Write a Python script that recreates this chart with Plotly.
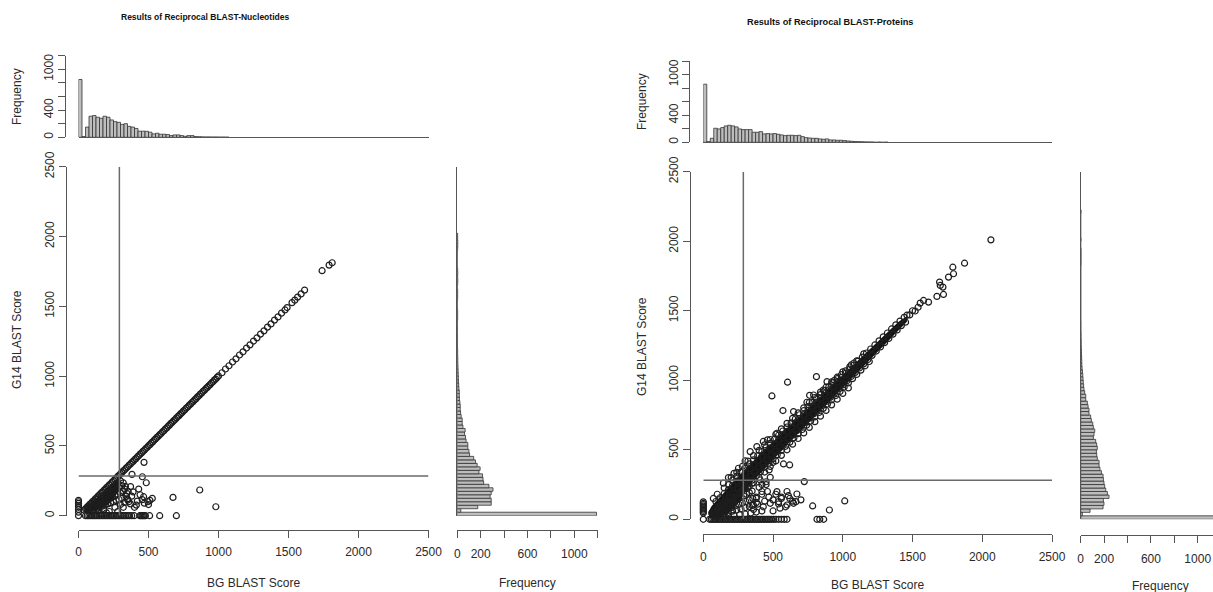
import plotly.graph_objects as go

W, H = 1213, 592
BIN = 25  # histogram bin width (score units)

# ---------------- Nucleotides panel data ----------------
nuc_bg_counts = [850, 10, 150, 310, 320, 295, 280, 310, 295, 255, 230, 220, 190, 200, 160, 150,
                 130, 90, 90, 88, 75, 50, 60, 45, 45, 40, 25, 35, 35, 25, 15, 25, 25, 10, 8, 6,
                 5, 5, 4, 4, 3, 3, 2]
nuc_g14_counts = [1190, 30, 175, 290, 290, 280, 290, 305, 270, 225, 220, 215, 185, 195, 170, 155,
                  140, 105, 100, 90, 90, 75, 70, 62, 67, 48, 42, 42, 33, 28, 25, 25, 22, 18, 17, 17,
                  14, 12, 10, 9, 8, 7, 6, 5, 4, 4, 3, 3, 2, 2, 2, 2, 1, 2, 1, 1, 3, 3, 3, 1, 0, 1,
                  3, 3, 3, 0, 3, 4, 3, 4, 3, 0, 0, 0, 0, 0, 3, 4, 4, 3, 3]

nuc_diag_x = [40, 50, 60, 70, 80, 90, 100, 110, 120, 130, 140, 150, 160, 170, 180, 190, 200, 210,
              220, 230, 240, 250, 260, 270, 280, 290, 300, 310, 320, 330, 340, 350, 360, 370, 380,
              390, 400, 410, 420, 430, 440, 450, 460, 470, 480, 490, 500, 510, 520, 530, 540, 550,
              560, 570, 580, 590, 600, 610, 620, 630, 640, 650, 660, 670, 680, 690, 700,
              710, 720, 730, 740, 750, 760, 770, 780, 790, 800, 810, 820, 830, 840, 850, 860, 870,
              880, 890, 900, 910, 920, 930, 940, 950, 960, 970, 980, 990, 1000,
              1025, 1050, 1075, 1100, 1125, 1150, 1175, 1200, 1225, 1250, 1275, 1300, 1325, 1350,
              1375, 1400, 1425, 1450, 1475,
              1490, 1525, 1545, 1565, 1590, 1615, 1740, 1790, 1812]
nuc_diag_y = [41, 49, 61, 69, 81, 89, 101, 109, 121, 129, 141, 149, 161, 169, 181, 189, 201, 209,
              221, 229, 241, 249, 261, 269, 281, 289, 301, 309, 321, 329, 341, 349, 361, 369, 381,
              389, 401, 409, 421, 429, 441, 449, 461, 469, 481, 489, 501, 509, 521, 529, 541, 549,
              561, 569, 581, 589, 601, 609, 621, 629, 641, 649, 661, 669, 681, 689, 701,
              711, 719, 731, 739, 751, 759, 771, 779, 791, 799, 811, 819, 831, 839, 851, 859, 871,
              879, 891, 899, 911, 919, 931, 939, 951, 959, 971, 979, 991, 1001,
              1024, 1051, 1074, 1101, 1124, 1151, 1174, 1201, 1224, 1251, 1274, 1301, 1324, 1351,
              1374, 1401, 1424, 1451, 1474,
              1491, 1526, 1544, 1566, 1589, 1616, 1755, 1795, 1812]

# envelope of the dense (solid black) cloud under the diagonal
nuc_core_x = [40, 110, 180, 230, 270, 300, 300, 220, 140, 60, 40]
nuc_core_y = [28, 32, 55, 95, 150, 210, 290, 212, 134, 55, 36]

nuc_zero_x = [50, 62, 74, 86, 98, 110, 122, 134, 146, 158, 170, 182, 194, 206, 218, 230, 242, 254,
              266, 278, 290, 302, 314, 326, 338, 352, 365, 380, 398, 438, 446, 454, 462, 470, 478,
              508, 580, 699]
nuc_zero_y = [0, 0, 0, 0, 0, 0, 0, 0, 0, 0, 0, 0, 0, 0, 0, 0, 0, 0, 0, 0, 0, 0, 0, 0, 0, 0, 0, 0,
              0, 0, 0, 0, 0, 0, 0, 0, 0, 0]

nuc_col_x = [0, 0, 0, 0, 0, 0, 0, 0]
nuc_col_y = [0, 25, 45, 60, 75, 88, 100, 110]

nuc_off_x = [60, 80, 100, 120, 140, 160, 180, 200, 220, 240, 260, 280, 300,
             70, 90, 110, 130, 150, 170, 190, 210, 230, 250, 270, 290, 310,
             80, 100, 120, 140, 160, 180, 200, 220, 240, 260, 280, 300, 320,
             90, 110, 130, 150, 170, 190, 210, 230, 250, 270, 290, 310,
             100, 140, 180, 220, 260, 300, 330, 340, 320, 280, 200, 160,
             330, 345, 350, 360, 370, 335, 320, 355,
             468, 382, 456, 484, 372, 430, 866, 675, 527, 465, 413, 496, 981, 353, 440, 420,
             500, 380, 400, 455, 510, 390, 470]
nuc_off_y = [50, 66, 85, 100, 118, 135, 150, 170, 185, 200, 220, 235, 250,
             48, 62, 77, 90, 105, 118, 132, 147, 160, 175, 188, 200, 215,
             44, 56, 66, 77, 88, 100, 110, 122, 132, 143, 154, 165, 176,
             36, 44, 52, 60, 68, 76, 84, 92, 100, 108, 116, 124,
             25, 35, 45, 30, 60, 80, 95, 140, 60, 30, 20, 15,
             190, 160, 120, 100, 85, 210, 235, 175,
             382, 296, 279, 236, 208, 191, 184, 131, 124, 136, 76, 100, 64, 112, 150, 105,
             80, 140, 60, 115, 110, 170, 90]

nuc_cut_bg, nuc_cut_g14 = 292, 285

# ---------------- Proteins panel data ----------------
prot_bg_counts = [861, 10, 60, 208, 198, 218, 243, 252, 243, 228, 198, 188, 188, 188, 149, 149,
                  158, 124, 129, 124, 129, 119, 109, 99, 104, 104, 99, 104, 84, 69, 64, 59, 59, 50,
                  45, 50, 35, 35, 30, 30, 25, 20, 15, 12, 10, 8, 6, 5, 4, 0, 3, 0, 2]
prot_g14_counts = [1180, 14, 80, 191, 199, 194, 242, 228, 214, 205, 199, 194, 191, 177, 165, 157,
                   157, 142, 137, 134, 142, 137, 128, 108, 114, 120, 108, 103, 91, 85, 71, 71, 63,
                   57, 43, 43, 34, 28, 25, 22, 20, 18, 15, 12, 10, 9, 8, 7, 6, 5, 4, 4, 3, 3, 2,
                   2, 2, 1, 1, 1, 1, 1, 1, 1, 1, 1, 1, 1, 1, 1, 1, 1, 1, 3, 3, 3, 3, 3, 0, 0, 3,
                   0, 0, 0, 0, 0, 0, 0, 3]

# envelope of the dense (solid black) band of points
prot_core_x = [40, 110, 170, 220, 270, 320, 400, 500, 600, 700, 800, 900, 1000, 1100, 1200, 1300,
               1400, 1460, 1460, 1400, 1300, 1200, 1100, 1000, 900, 800, 700, 600, 500, 400, 300,
               200, 120, 60, 40]
prot_core_y = [8, 12, 35, 80, 140, 230, 320, 430, 535, 637, 740, 843, 945, 1047, 1152, 1257, 1362,
               1420, 1462, 1420, 1325, 1228, 1130, 1035, 940, 845, 750, 655, 560, 462, 360, 250,
               160, 95, 60]

prot_u1_x = [90, 120, 150, 180, 210, 240, 270, 300, 330, 360, 390, 420, 450, 480, 510, 540, 570,
             600, 630, 660, 690, 720, 750, 780, 810, 840, 870, 900, 930, 960, 990, 1020, 1050,
             1080, 1110, 1140, 1170, 1200, 1230, 1260, 1290, 1320, 1350, 1380, 1410, 1440, 1460]
prot_u1_y = [128, 155, 186, 214, 245, 274, 304, 333, 364, 394, 423, 454, 483, 514, 543, 574, 604,
             633, 664, 693, 724, 753, 783, 812, 843, 872, 903, 931, 962, 990, 1021, 1050, 1080,
             1108, 1138, 1167, 1196, 1225, 1254, 1283, 1312, 1340, 1369, 1398, 1426, 1452, 1468]

prot_l1_x = [100, 130, 160, 190, 220, 250, 280, 310, 340, 370, 400, 430, 460, 490, 520, 550, 580,
             610, 640, 670, 700, 730, 760, 790, 820, 850, 880, 910, 940, 970, 1000, 1030, 1060,
             1090, 1120, 1150, 1180, 1210, 1240, 1270, 1300, 1330, 1360, 1390, 1420, 1450]
prot_l1_y = [70, 98, 128, 157, 187, 217, 248, 277, 307, 338, 367, 397, 428, 457, 487, 517, 547,
             577, 607, 637, 667, 697, 727, 757, 787, 817, 847, 877, 907, 937, 967, 997, 1027,
             1057, 1088, 1118, 1149, 1179, 1210, 1240, 1271, 1301, 1332, 1362, 1393, 1418]

prot_u2_x = [150, 180, 210, 240, 270, 300, 330, 360, 390, 420, 450, 480, 510, 540, 570, 600, 630,
             660, 690, 720, 750, 780, 810, 840, 870, 900, 930, 960, 990, 1020, 1050, 1080]
prot_u2_y = [225, 250, 282, 310, 340, 368, 398, 428, 457, 487, 516, 546, 576, 605, 635, 664, 694,
             723, 752, 781, 811, 840, 868, 897, 926, 954, 983, 1012, 1040, 1068, 1096, 1124]

prot_l2_x = [200, 230, 260, 290, 320, 350, 380, 410, 440, 470, 500, 530, 560, 590, 620, 650, 680,
             710, 740, 770, 800, 830, 860, 890, 920, 950, 980, 1010, 1040, 1070, 1100, 1130, 1160,
             1190]
prot_l2_y = [130, 160, 192, 222, 252, 282, 313, 343, 374, 404, 434, 465, 495, 525, 555, 586, 616,
             646, 677, 707, 737, 768, 798, 829, 859, 890, 920, 951, 981, 1012, 1042, 1073, 1104,
             1135]

prot_u3_x = [200, 240, 280, 320, 360, 400, 440, 480, 520, 560, 600, 640, 680, 720, 760, 800, 840,
             880, 920, 960]
prot_u3_y = [300, 338, 380, 418, 458, 496, 535, 574, 612, 650, 690, 726, 765, 802, 840, 876, 915,
             950, 988, 1022]

prot_l3_x = [320, 360, 400, 440, 480, 520, 560, 600, 640, 680, 720, 760, 800, 840, 880, 920, 960,
             1000, 1040]
prot_l3_y = [225, 262, 300, 340, 380, 420, 460, 500, 540, 581, 621, 661, 702, 742, 783, 823, 864,
             905, 945]

prot_zero_x = [45, 57, 69, 81, 93, 105, 117, 129, 141, 153, 165, 177, 189, 201, 213, 225, 237, 249,
               261, 273, 285, 297, 309, 321, 333, 345, 357, 369, 381, 393, 405, 417, 429, 441, 453,
               465, 477, 490, 505, 520, 540, 560, 580, 600, 815, 835, 863]
prot_zero_y = [0, 0, 0, 0, 0, 0, 0, 0, 0, 0, 0, 0, 0, 0, 0, 0, 0, 0, 0, 0, 0, 0, 0, 0, 0, 0, 0, 0,
               0, 0, 0, 0, 0, 0, 0, 0, 0, 0, 0, 0, 0, 0, 0, 0, 0, 0, 0]

prot_col_x = [0, 0, 0, 0, 0, 0, 0, 0, 0, 0]
prot_col_y = [0, 45, 55, 65, 75, 85, 95, 105, 115, 125]

prot_off_x = [60, 80, 100, 120, 140, 160, 180, 200, 220, 240, 260, 280, 300,
              70, 90, 110, 130, 150, 170, 190, 210, 230, 250, 270, 290, 310, 330, 350,
              80, 105, 130, 155, 180, 205, 230, 255, 280, 305, 330, 355, 380,
              90, 120, 150, 180, 210, 240, 270, 300, 330, 360, 390,
              100, 140, 180, 220, 260, 300, 340, 380, 420,
              400, 420, 440, 460, 380, 360, 430, 470, 500, 520, 540, 560, 590, 610, 640, 420, 450,
              350, 300, 330,
              72, 100, 144, 180, 220, 252, 300, 336, 384, 430, 460, 528,
              492, 604, 571, 647, 743, 791, 811, 887, 762, 860, 940, 1000, 1100, 1060, 1150,
              575, 619, 472, 499, 480, 724, 408, 528, 671, 664, 540, 784, 904, 1014, 600, 480,
              647, 450, 420, 560, 620, 700, 500, 550, 380, 350, 600,
              1480, 1500, 1519, 1540, 1555, 1579, 1615, 1675, 1699, 1694, 1718, 1722, 1758, 1794,
              1789, 1873, 2062]
prot_off_y = [45, 58, 75, 90, 105, 120, 135, 150, 165, 180, 196, 210, 225,
              40, 52, 64, 75, 87, 99, 110, 122, 133, 145, 157, 168, 180, 192, 203,
              34, 44, 55, 65, 76, 86, 97, 107, 118, 128, 139, 149, 160,
              25, 34, 42, 50, 59, 67, 76, 84, 92, 101, 109,
              14, 18, 22, 28, 33, 38, 45, 52, 60,
              230, 180, 130, 200, 120, 70, 90, 160, 140, 180, 110, 150, 90, 170, 130, 250, 270,
              260, 260, 240,
              150, 180, 260, 300, 330, 367, 420, 487, 523, 560, 571, 619,
              887, 986, 782, 775, 842, 894, 1026, 990, 892, 930, 1000, 1060, 1140, 1110, 1190,
              398, 391, 355, 408, 302, 271, 283, 199, 182, 127, 127, 96, 67, 132, 103, 115,
              115, 250, 200, 160, 150, 140, 60, 80, 150, 100, 200,
              1470, 1500, 1498, 1525, 1555, 1574, 1562, 1603, 1682, 1706, 1670, 1617, 1742, 1766,
              1813, 1842, 2010]

prot_cut_bg, prot_cut_g14 = 287, 280

# ---------------- figure ----------------
FONT = "Liberation Sans"
AX = "#555555"
TXT = "#2a2a2a"
MK = dict(symbol="circle-open", size=6, color="#1e1e1e", line=dict(width=1.2, color="#1e1e1e"))
BAR = dict(color="#bdbdbd", line=dict(color="#333333", width=0.8))


def px(xp):
    return xp / W


def py(yp):
    return 1 - yp / H


def centers(counts):
    return [BIN * i + BIN / 2 for i in range(len(counts))]


fig = go.Figure()


def add_panel(sfx, core, groups, bg_counts, g14_counts):
    xs, ys = "x" + sfx[0], "y" + sfx[0]
    fig.add_trace(go.Scatter(x=core[0], y=core[1], mode="lines", fill="toself",
                             fillcolor="#141414", line=dict(width=0, color="#141414"),
                             xaxis=xs, yaxis=ys, showlegend=False, hoverinfo="skip"))
    for gx, gy in groups:
        fig.add_trace(go.Scatter(x=gx, y=gy, mode="markers", marker=MK, cliponaxis=False,
                                 xaxis=xs, yaxis=ys, showlegend=False, hoverinfo="x+y"))
    fig.add_trace(go.Bar(x=centers(bg_counts), y=bg_counts, width=BIN, marker=BAR,
                         xaxis="x" + sfx[1], yaxis="y" + sfx[1], showlegend=False))
    fig.add_trace(go.Bar(y=centers(g14_counts), x=g14_counts, width=BIN, orientation="h",
                         marker=BAR, xaxis="x" + sfx[2], yaxis="y" + sfx[2], showlegend=False))


add_panel(["", "2", "3"], (nuc_core_x, nuc_core_y),
          [(nuc_zero_x, nuc_zero_y), (nuc_col_x, nuc_col_y), (nuc_off_x, nuc_off_y),
           (nuc_diag_x, nuc_diag_y)],
          nuc_bg_counts, nuc_g14_counts)
add_panel(["4", "5", "6"], (prot_core_x, prot_core_y),
          [(prot_zero_x, prot_zero_y), (prot_col_x, prot_col_y), (prot_off_x, prot_off_y),
           (prot_l3_x, prot_l3_y), (prot_u3_x, prot_u3_y), (prot_l2_x, prot_l2_y),
           (prot_u2_x, prot_u2_y), (prot_l1_x, prot_l1_y), (prot_u1_x, prot_u1_y)],
          prot_bg_counts, prot_g14_counts)

score_ticks = [0, 500, 1000, 1500, 2000, 2500]
freq_ticks = [0, 200, 400, 600, 800, 1000, 1200]
freq_top_text = ["0", "", "400", "", "", "1000", ""]
freq_side_text = ["0", "200", "", "600", "", "1000", ""]

common = dict(showgrid=False, zeroline=False, linecolor=AX, linewidth=1, ticks="outside",
              ticklen=7, tickcolor=AX, automargin=False,
              tickfont=dict(family=FONT, size=12, color=TXT))


def panel_axes(sfx, sx0, sx1, sy0, sy1, yaxis_x, xaxis_y, hy0, hy1, hyaxis_x, fx0, fx1, frange,
               fxaxis_y, xstand, fstand):
    a, b, c = sfx
    k = lambda n, s: n + ("axis" + s if s else "axis")
    lay = {}
    lay[k("x", a)] = dict(common, domain=[px(sx0), px(sx1)], range=[0, 2500], anchor="free",
                          position=py(xaxis_y), showline=True, tickvals=score_ticks,
                          ticklabelstandoff=xstand)
    lay[k("y", a)] = dict(common, domain=[py(sy0), py(sy1)], range=[0, 2500], anchor="free",
                          position=px(yaxis_x), showline=True, tickvals=score_ticks,
                          tickangle=-90)
    lay[k("x", b)] = dict(showgrid=False, zeroline=False, domain=[px(sx0), px(sx1)],
                          range=[0, 2500], anchor="y" + b, showline=True, linecolor=AX,
                          linewidth=1, ticks="", showticklabels=False, automargin=False)
    lay[k("y", b)] = dict(common, domain=[py(hy0), py(hy1)], range=[0, 1200], anchor="free",
                          position=px(hyaxis_x), showline=True, tickvals=freq_ticks,
                          ticktext=freq_top_text, tickangle=-90)
    lay[k("x", c)] = dict(common, domain=[px(fx0), px(fx1)], range=frange, anchor="free",
                          position=py(fxaxis_y), showline=True, tickvals=freq_ticks,
                          ticktext=freq_side_text, ticklabelstandoff=fstand)
    lay[k("y", c)] = dict(showgrid=False, zeroline=False, domain=[py(sy0), py(sy1)],
                          range=[0, 2500], anchor="x" + c, showline=True, linecolor=AX,
                          linewidth=1, ticks="", showticklabels=False, automargin=False)
    return lay


layout_axes = {}
layout_axes.update(panel_axes(["", "2", "3"], 78.5, 428.5, 515.7, 166.7, 65.7, 529.5,
                              137.3, 55.7, 65.0, 457.3, 597.7, [0, 1200], 530.0, 4, 6))
layout_axes.update(panel_axes(["4", "5", "6"], 703.3, 1052.0, 519.3, 171.7, 690.0, 534.3,
                              142.3, 61.3, 689.3, 1080.7, 1213.0,
                              [0, (1213.0 - 1080.7) / 0.117], 535.0, 4, 6))

shapes = []
for xr, yr, cbg, cg in [("x", "y", nuc_cut_bg, nuc_cut_g14),
                        ("x4", "y4", prot_cut_bg, prot_cut_g14)]:
    shapes.append(dict(type="line", xref=xr, yref=yr, x0=cbg, x1=cbg, y0=0, y1=2500,
                       line=dict(color="#6a6a6a", width=1.5)))
    shapes.append(dict(type="line", xref=xr, yref=yr, x0=0, x1=2500, y0=cg, y1=cg,
                       line=dict(color="#6a6a6a", width=1.5)))


def ann(x, y, text, size=12, angle=0, bold=False):
    return dict(x=px(x), y=py(y), xref="paper", yref="paper", showarrow=False, text=text,
                textangle=angle, xanchor="center", yanchor="middle",
                font=dict(family=FONT, size=size, color="#111111" if bold else TXT))


annotations = [
    ann(205, 17, "<b>Results of Reciprocal BLAST-Nucleotides</b>", size=8.5, bold=True),
    ann(830, 22, "<b>Results of Reciprocal BLAST-Proteins</b>", size=9.2, bold=True),
    ann(253, 583, "BG BLAST Score"),
    ann(877, 585, "BG BLAST Score"),
    ann(17, 340, "G14 BLAST Score", angle=-90),
    ann(642, 347, "G14 BLAST Score", angle=-90),
    ann(17, 97, "Frequency", angle=-90),
    ann(642, 102, "Frequency", angle=-90),
    ann(527, 583, "Frequency"),
    ann(1160, 586, "Frequency"),
]

fig.update_layout(template="none", width=W, height=H, autosize=False,
                  margin=dict(l=0, r=0, t=0, b=0, pad=0, autoexpand=False),
                  paper_bgcolor="white", plot_bgcolor="white", barmode="overlay",
                  shapes=shapes, annotations=annotations, showlegend=False,
                  font=dict(family=FONT), **layout_axes)

fig.write_html("out.html",
               config={"displayModeBar": False, "responsive": False},
               post_script="document.body.style.margin='0px';"
                           "document.body.style.padding='0px';"
                           "document.body.style.overflow='hidden';")
